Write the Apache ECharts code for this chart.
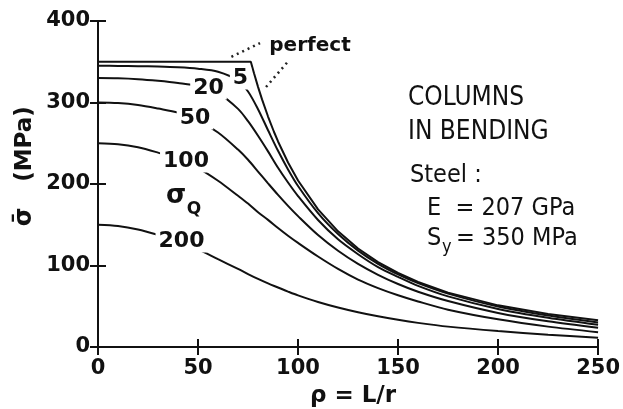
<!DOCTYPE html>
<html><head><meta charset="utf-8">
<script src="https://cdn.jsdelivr.net/npm/echarts@6/dist/echarts.min.js"></script>
<style>html,body{margin:0;padding:0;background:#fff}#c{width:623px;height:409px}</style>
</head><body><div id="c"></div>
<script>
// slenderness ratio rho = L/r
const rho = [0,10,20,30,40,50,60,70,75,80,85,90,95,100,110,120,130,140,150,160,175,200,225,250];
// "perfect" column: yield plateau then Euler curve
const perfectRho = [0,76.4,78,80,82,85,88,90,95,100,110,120,130,140,150,160,175,200,225,250];
const perfect    = [350,350,335.8,319.2,303.8,282.8,263.8,252.2,226.4,204.3,168.8,141.9,120.9,104.2,90.8,79.8,66.7,51.1,40.4,32.7];
// sigma_Q curves (MPa)
const q5   = [345,344.9,344.6,344.1,343.2,341.4,337.7,326.9,313.5,291.8,266.0,240.7,217.9,197.6,164.3,138.6,118.3,102.1,89.1,78.3,65.5,49.7,38.7,30.2];
const q20  = [330,329.7,328.6,326.6,324.0,320.3,311.5,292.2,277.1,259.2,240.0,219.9,201.8,185.2,155.8,132.1,113.8,98.0,86.0,75.0,62.1,46.7,35.8,27.2];
const q50  = [300,299.3,296.9,292.6,287.6,277.7,263.2,242.2,229.7,215.3,200.8,186.6,173.2,160.6,137.4,118.1,102.0,88.6,77.3,67.8,56.4,41.8,31.5,23.6];
const q100 = [250,248.8,245.0,238.5,231.0,219.5,204.0,185.5,176.0,165.3,156.0,146.0,136.5,127.7,111.0,95.8,82.7,72.3,63.5,55.9,45.8,34.0,25.0,18.2];
const q200 = [150,148.5,144.2,137.5,129.8,119.7,107.7,95.8,89.5,83.5,78.0,73.0,68.0,63.3,55.2,48.4,42.6,37.6,33.3,29.6,25.0,19.5,15.0,11.5];
const xTicks = [0,50,100,150,200,250];
const yTicks = [0,100,200,300,400];

const FONT = 'DejaVu Sans';
const COND = 'DejaVu Sans Condensed';
const INK = '#111';
const pairs = (xs, ys) => xs.map((x, i) => [x, ys[i]]);

const chart = echarts.init(document.getElementById('c'), null, {renderer: 'canvas'});

const axisCommon = {
  axisLine: {show: true, lineStyle: {color: INK, width: 2}},
  axisTick: {show: true, inside: true, length: 8, lineStyle: {color: INK, width: 2}},
  splitLine: {show: false}
};
const xBase = {type: 'value', min: xTicks[0], max: xTicks[xTicks.length-1], interval: xTicks[1]-xTicks[0]};
const yBase = {type: 'value', min: yTicks[0], max: yTicks[yTicks.length-1], interval: yTicks[1]-yTicks[0]};
const tickLabel = {color: INK, fontFamily: FONT, fontWeight: 'bold', fontSize: 21};

function curve(name, data, smooth) {
  return {
    name, type: 'line', data, showSymbol: false, smooth: smooth,
    lineStyle: {color: INK, width: 2}, silent: true, z: 3
  };
}

const seriesList = [
  Object.assign(curve('perfect', pairs(perfectRho, perfect), false), {
    markLine: {
      silent: true, symbol: ['none','none'], label: {show: false},
      lineStyle: {color: '#222', type: [2,4], width: 2.5},
      data: [
        [{coord: [66.7, 356]}, {coord: [81, 373]}],
        [{coord: [84, 319]}, {coord: [94.9, 350]}]
      ]
    }
  }),
  curve('5', pairs(rho, q5), 0.3),
  curve('20', pairs(rho, q20), 0.3),
  curve('50', pairs(rho, q50), 0.3),
  curve('100', pairs(rho, q100), 0.3),
  curve('200', pairs(rho, q200), 0.3)
];

function t(text, x, y, size, o) {
  o = o || {};
  return {
    type: 'text', z: 100, x, y, rotation: o.rotation || 0,
    style: {
      text, fontFamily: o.family || FONT, fontSize: size, fontWeight: o.weight || 'bold',
      fill: INK, textAlign: o.align || 'center', textVerticalAlign: 'middle',
      backgroundColor: o.box ? '#fff' : null, padding: o.box ? [0, 3] : 0
    }
  };
}

chart.setOption({
  animation: false,
  backgroundColor: '#fff',
  grid: {left: 98, right: 19, top: 21, bottom: 62},
  xAxis: [
    Object.assign({}, xBase, axisCommon, {position: 'bottom', axisLabel: Object.assign({margin: 11}, tickLabel)}),
    Object.assign({}, xBase, axisCommon, {position: 'top', axisLabel: {show: false}})
  ],
  yAxis: [
    Object.assign({}, yBase, axisCommon, {position: 'left', axisLabel: Object.assign({margin: 8}, tickLabel)}),
    Object.assign({}, yBase, axisCommon, {position: 'right', axisLabel: {show: false}})
  ],
  series: seriesList,
  graphic: [
    t('perfect', 310, 46, 20),
    t('5', 240.5, 78.5, 22, {box: true}),
    t('20', 208.5, 88.5, 22, {box: true}),
    t('50', 195, 118.5, 22, {box: true}),
    t('100', 186, 161.5, 22, {box: true}),
    t('200', 181.5, 241.5, 22, {box: true}),
    t('σ', 176, 196, 26),
    t('Q', 194, 210, 17),
    t('COLUMNS', 408, 98, 26, {family: COND, weight: 'normal', align: 'left'}),
    t('IN BENDING', 408, 132, 26, {family: COND, weight: 'normal', align: 'left'}),
    t('Steel :', 410, 175, 25, {family: COND, weight: 'normal', align: 'left'}),
    t('E  = 207 GPa', 427, 208, 25, {family: COND, weight: 'normal', align: 'left'}),
    t('S', 427, 238, 25, {family: COND, weight: 'normal', align: 'left'}),
    t('y', 442, 247, 18, {family: COND, weight: 'normal', align: 'left'}),
    t('= 350 MPa', 456, 238, 25, {family: COND, weight: 'normal', align: 'left'}),
    t('ρ = L/r', 353, 396, 23),
    t('σ\u0304', 25, 217, 24, {rotation: Math.PI/2}),
    t('(MPa)', 25, 144, 23, {rotation: Math.PI/2})
  ]
});
</script></body></html>
